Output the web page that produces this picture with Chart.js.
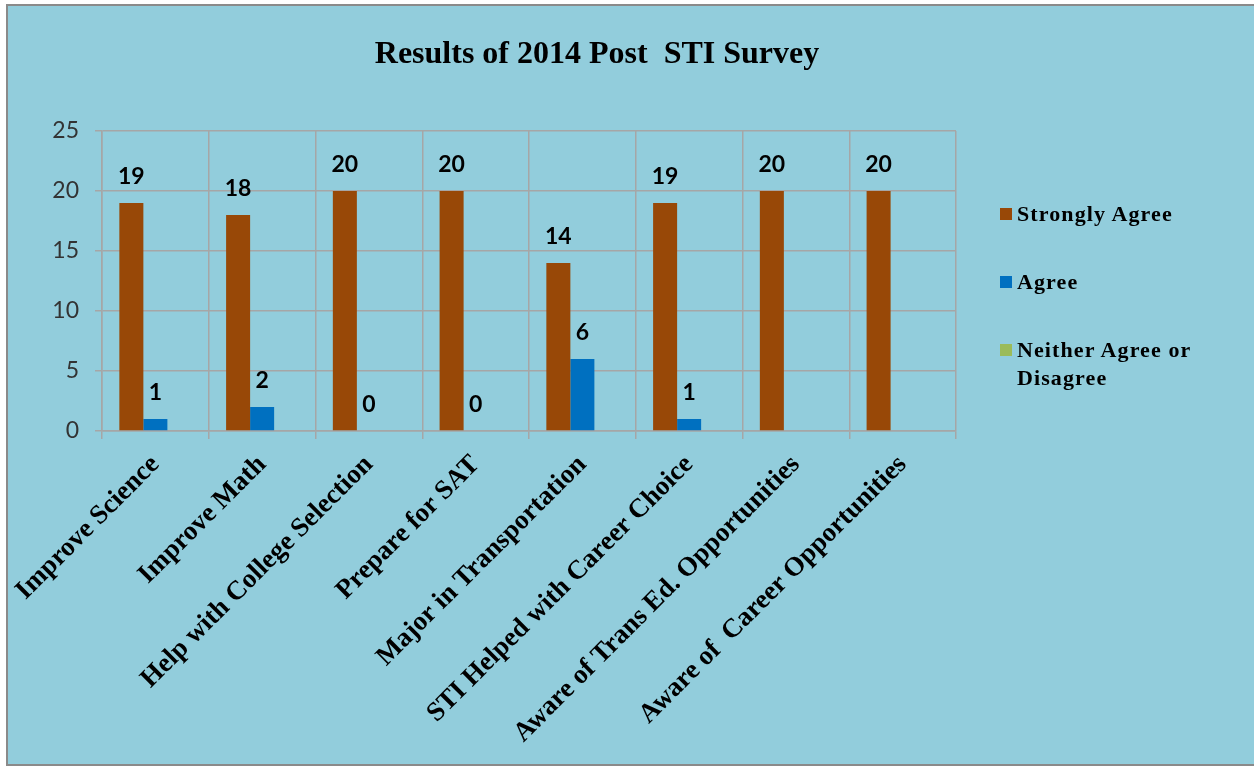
<!DOCTYPE html>
<html>
<head>
<meta charset="utf-8">
<script src="https://cdn.jsdelivr.net/npm/chart.js@4"></script>
<style>
  body { margin: 0; background: #fff; }
  #wrap { position: absolute; left: 6px; top: 4px; width: 1260px; height: 762px;
          background: #92CDDC; border: 2px solid #8a8a8a; border-right: none; box-sizing: border-box; }
  #chart1 { position: absolute; left: -8px; top: -6px; }
  #title { position: absolute; left: -8px; width: 1194px; top: 28px; text-align: center;
           font: bold 32px "Liberation Serif", serif; color: #000; }
  #legend { position: absolute; left: 992px; top: 194px; font: bold 22px "Liberation Serif", serif; letter-spacing: 1.1px; }
  .item { position: relative; padding-left: 17px; width: 210px; line-height: 28px; margin-bottom: 40px; }
  .item span { position: absolute; left: 0; top: 8px; width: 12px; height: 12px; }
</style>
</head>
<body>
<div id="wrap">
  <canvas id="chart1" width="1254" height="767"></canvas>
  <div id="title">Results of 2014 Post&nbsp; STI Survey</div>
  <div id="legend"></div>
</div>
<script>
const categorias = ['Improve Science', 'Improve Math', 'Help with College Selection', 'Prepare for SAT',
  'Major in Transportation', 'STI Helped with Career Choice', 'Aware of Trans Ed. Opportunities', 'Aware of  Career Opportunities'];
const stronglyAgree = [19, 18, 20, 20, 14, 19, 20, 20];
const agree = [1, 2, 0, 0, 6, 1, null, null];
const neither = [0, 0, 0, 0, 0, 0, 0, 0];
const yTicks = [0, 5, 10, 15, 20, 25];

const colores = ['#984807', '#0070C0', '#9BBB59'];
const nombres = ['Strongly Agree', 'Agree', 'Neither Agree or Disagree'];

// etiquetas de datos encima de las barras
const etiquetas = {
  id: 'etiquetas',
  afterDatasetsDraw(chart) {
    const ctx = chart.ctx;
    ctx.save();
    ctx.font = 'bold 23px Lato';
    ctx.fillStyle = '#000';
    ctx.textAlign = 'center';
    ctx.textBaseline = 'middle';
    chart.data.datasets.forEach((ds, i) => {
      if (!ds.showLabels) return;
      chart.getDatasetMeta(i).data.forEach((bar, j) => {
        if (ds.data[j] === null) return;
        ctx.fillText(ds.data[j], bar.x, bar.y - 26);
      });
    });
    ctx.restore();
  }
};

new Chart(document.getElementById('chart1'), {
  type: 'bar',
  data: {
    labels: categorias,
    datasets: [
      { label: nombres[0], data: stronglyAgree, backgroundColor: colores[0], showLabels: true },
      { label: nombres[1], data: agree, backgroundColor: colores[1], showLabels: true },
      { label: nombres[2], data: neither, backgroundColor: colores[2], showLabels: false }
    ]
  },
  options: {
    responsive: false,
    animation: false,
    layout: { padding: { top: 131, right: 298, left: 0, bottom: 0 } },
    datasets: { bar: { categoryPercentage: 0.675, barPercentage: 1 } },
    plugins: { legend: { display: false }, title: { display: false }, tooltip: { enabled: false } },
    scales: {
      x: {
        afterFit: s => { s.height = 767 - 431; },
        grid: { color: '#a6a6a6', lineWidth: 1.5, tickLength: 8, offset: true },
        border: { color: '#a6a6a6', width: 1.5 },
        ticks: { minRotation: 45, maxRotation: 45, autoSkip: false, color: '#000', padding: 10,
                 font: { family: 'Liberation Serif', size: 27, weight: 'bold' } }
      },
      y: {
        min: 0, max: 25,
        afterFit: s => { s.width = 102; },
        afterBuildTicks: s => { s.ticks = yTicks.map(v => ({ value: v })); },
        grid: { color: '#a6a6a6', lineWidth: 1.5, tickLength: 7 },
        border: { color: '#a6a6a6', width: 1.5 },
        ticks: { color: '#333', padding: 16, font: { family: 'Lato', size: 23 } }
      }
    }
  },
  plugins: [etiquetas]
});

// leyenda
const leyenda = document.getElementById('legend');
nombres.forEach((n, i) => {
  const d = document.createElement('div');
  d.className = 'item';
  d.innerHTML = '<span style="background:' + colores[i] + '"></span>' + n;
  leyenda.appendChild(d);
});
</script>
</body>
</html>
